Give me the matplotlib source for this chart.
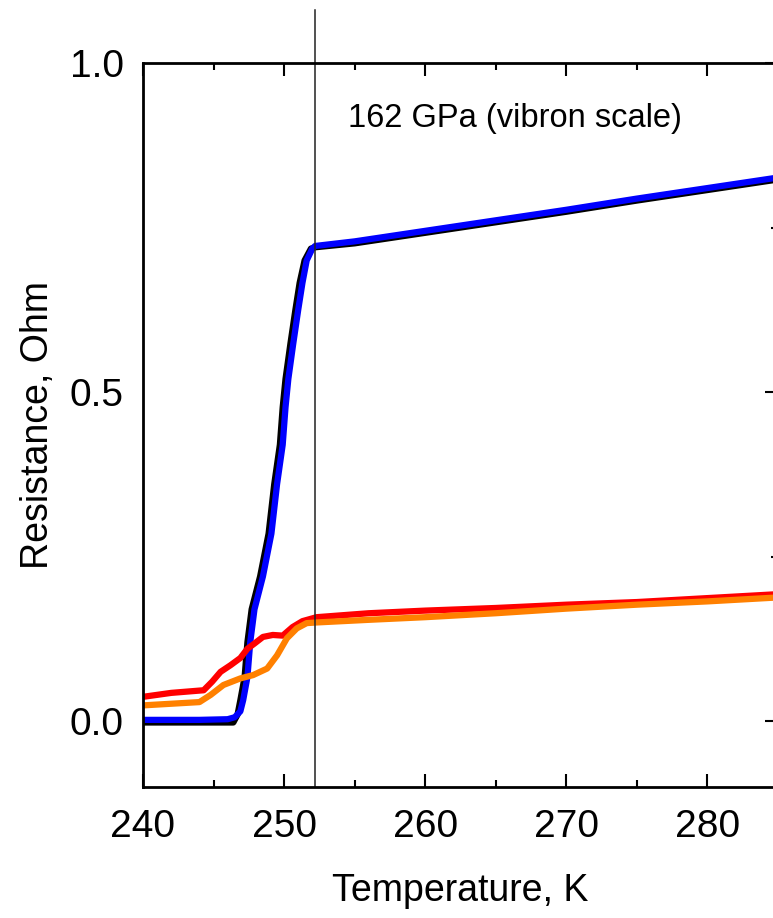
import matplotlib
matplotlib.use("Agg")
import matplotlib.pyplot as plt
from matplotlib.ticker import MultipleLocator, FormatStrFormatter

plt.rcParams['font.family'] = ['Liberation Sans', 'DejaVu Sans']

# ---- data ----
blue_T = [240, 244, 246.0, 246.5, 246.9, 247.1, 247.4, 247.6, 247.9, 248.5, 249.1, 249.5,
          249.9, 250.1, 250.3, 250.65, 251.0, 251.3, 251.6, 252.0, 252.2,
          255, 260, 265, 270, 275, 280, 285]
blue_R = [0.002, 0.002, 0.003, 0.006, 0.015, 0.032, 0.067, 0.12, 0.17, 0.22, 0.285, 0.36,
          0.42, 0.477, 0.52, 0.574, 0.625, 0.666, 0.70, 0.718, 0.722,
          0.729, 0.745, 0.761, 0.777, 0.794, 0.810, 0.826]

black_T = [240, 244, 246.4, 246.7, 246.9, 247.2, 247.4, 247.7, 248.3, 248.9, 249.3,
           249.7, 249.9, 250.1, 250.45, 250.8, 251.1, 251.45, 251.9, 252.2,
           255, 260, 265, 270, 275, 280, 285]
black_R = [-0.002, -0.002, -0.002, 0.01, 0.032, 0.067, 0.12, 0.17, 0.22, 0.285, 0.36,
           0.42, 0.477, 0.52, 0.574, 0.625, 0.666, 0.70, 0.718, 0.720,
           0.726, 0.742, 0.758, 0.774, 0.791, 0.807, 0.823]

red_T = [240, 242, 244.3, 244.9, 245.5, 246.2, 246.9, 247.4, 247.9, 248.5, 249.2, 249.9,
         250.6, 251.3, 252.3, 256, 260, 265, 270, 275, 280, 285]
red_R = [0.037, 0.043, 0.047, 0.060, 0.075, 0.085, 0.096, 0.110, 0.118, 0.128, 0.131, 0.130,
         0.143, 0.152, 0.158, 0.164, 0.168, 0.172, 0.177, 0.181, 0.187, 0.193]

orange_T = [240, 244, 244.8, 245.7, 246.9, 247.8, 248.8, 249.5, 250.2, 250.9, 251.6, 252.3,
            256, 260, 265, 270, 275, 280, 285]
orange_R = [0.024, 0.029, 0.040, 0.055, 0.065, 0.070, 0.080, 0.100, 0.126, 0.141, 0.149, 0.150,
            0.154, 0.158, 0.164, 0.171, 0.177, 0.182, 0.188]

Tc = 252.2
x_ticks = [240, 250, 260, 270, 280]
y_ticks = [0.0, 0.5, 1.0]
annotation = "162 GPa (vibron scale)"

# ---- figure ----
fig = plt.figure(figsize=(7.73, 9.18), dpi=100)
ax = fig.add_axes([143/773, 1 - 787/918, (778 - 143)/773, (787 - 63)/918])

lw = 4.5
ax.plot(black_T, black_R, color='black', lw=lw, solid_capstyle='butt')
ax.plot(blue_T, blue_R, color='#0000ff', lw=lw, solid_capstyle='butt')
ax.plot(red_T, red_R, color='#ff0000', lw=lw, solid_capstyle='butt')
ax.plot(orange_T, orange_R, color='#ff8000', lw=lw, solid_capstyle='butt')

ax.plot([Tc, Tc], [-0.1, 1.08], color='#222222', lw=1.1, clip_on=False)

ax.set_xlim(240, 285)
ax.set_ylim(-0.1, 1.0)
ax.set_xticks(x_ticks)
ax.set_yticks(y_ticks)
ax.xaxis.set_minor_locator(MultipleLocator(5))
ax.yaxis.set_minor_locator(MultipleLocator(0.25))
ax.yaxis.set_major_formatter(FormatStrFormatter('%.1f'))

ax.tick_params(which='both', direction='in', top=True, right=True, left=False,
               width=1.5, labelsize=28, colors='black')
ax.tick_params(which='major', length=9.5)
ax.tick_params(which='minor', length=5)
ax.tick_params(axis='x', which='major', pad=16)
ax.tick_params(axis='y', which='major', pad=14)

for s in ax.spines.values():
    s.set_linewidth(2.0)

ax.set_xlabel("Temperature, K", fontsize=27, labelpad=20)
ax.set_ylabel("Resistance, Ohm", fontsize=27, labelpad=10)

ax.text(254.5, 0.915, annotation, fontsize=23.5, va='center', ha='left')

fig.savefig("out.png", dpi=100)
